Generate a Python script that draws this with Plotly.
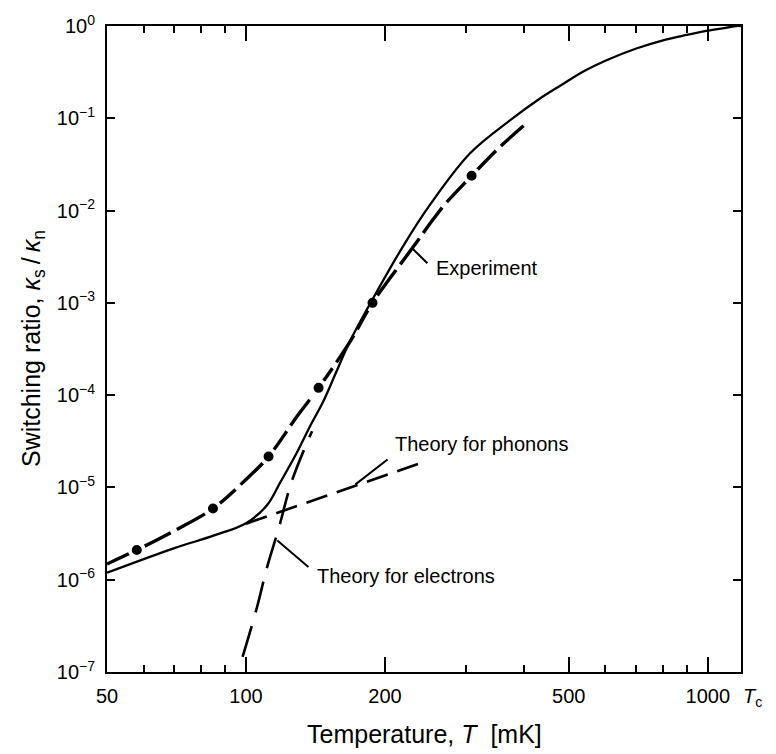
import numpy as np
import plotly.graph_objects as go

# ---- data ----
exp_T = [50, 58, 70, 84.8, 100, 111.9, 129, 143.6, 168, 187.9, 229, 255, 270, 308, 350, 399]
exp_ratio = [1.48e-6, 2.1e-6, 3.4e-6, 5.9e-6, 1.22e-5, 2.16e-5, 5.9e-5, 1.2e-4, 3.8e-4,
             1.0e-3, 3.9e-3, 8.2e-3, 1.18e-2, 2.38e-2, 4.6e-2, 8.3e-2]
dot_T = [58, 84.8, 111.9, 143.6, 187.9, 308]
dot_ratio = [2.1e-6, 5.9e-6, 2.16e-5, 1.2e-4, 1.0e-3, 2.38e-2]

total_T = [50, 70, 85, 100, 111, 118.7, 128.9, 137.6, 146.4, 157, 168.2, 192.3, 219.6,
           251, 306, 374, 430, 481, 540, 600, 700, 800, 900, 1000, 1100, 1150, 1180]
total_ratio = [1.19e-6, 2.2e-6, 3.0e-6, 4.1e-6, 6.4e-6, 1.14e-5, 2.39e-5, 4.6e-5, 8.2e-5,
               1.8e-4, 3.9e-4, 1.34e-3, 4.23e-3, 1.18e-2, 4.2e-2, 9.6e-2, 0.16, 0.228,
               0.325, 0.42, 0.57, 0.7, 0.8, 0.89, 0.96, 1.0, 1.0]

phonon_T = [100, 240]
phonon_ratio = [4.05e-6, 1.85e-5]

electron_T = [98.3, 105.6, 111, 117.7, 125.8, 139]
electron_ratio = [1.46e-7, 5.0e-7, 1.35e-6, 3.6e-6, 1.19e-5, 4.07e-5]

# leader lines for labels
lead_exp_T, lead_exp_r = [229, 247], [3.9e-3, 2.69e-3]
lead_ph_T, lead_ph_r = [172.6, 202.5], [1.08e-5, 2.01e-5]
lead_el_T, lead_el_r = [116.9, 136.5], [2.66e-6, 1.37e-6]

labels = ["Experiment", "Theory for phonons", "Theory for electrons"]
label_T = [254.8, 207.6, 141.3]
label_r = [2.4e-3, 2.94e-5, 1.1e-6]

x_ticks = [50, 100, 200, 500, 1000]
x_minor = [60, 70, 80, 90, 300, 400, 600, 700, 800, 900]
T_c = 1180
y_ticks = [1e-7, 1e-6, 1e-5, 1e-4, 1e-3, 1e-2, 1e-1, 1]
y_ticktext = ["10<sup>\u22127</sup>", "10<sup>\u22126</sup>", "10<sup>\u22125</sup>",
              "10<sup>\u22124</sup>", "10<sup>\u22123</sup>", "10<sup>\u22122</sup>",
              "10<sup>\u22121</sup>", "10<sup>0</sup>"]

FONT = "Liberation Sans, Arial, Helvetica, sans-serif"

fig = go.Figure()

# Experiment (thick long dashes with dots)
fig.add_trace(go.Scatter(x=exp_T, y=exp_ratio, mode="lines", line_shape="spline",
                         line=dict(color="black", width=3.4, dash="32px,7px"),
                         hoverinfo="skip", showlegend=False))
fig.add_trace(go.Scatter(x=dot_T, y=dot_ratio, mode="markers",
                         marker=dict(color="black", size=14, line=dict(color="white", width=4)),
                         showlegend=False))
# total theory (solid)
fig.add_trace(go.Scatter(x=total_T, y=total_ratio, mode="lines", line_shape="spline",
                         line=dict(color="black", width=2.3, smoothing=1.0), showlegend=False))
# phonon theory
fig.add_trace(go.Scatter(x=phonon_T, y=phonon_ratio, mode="lines",
                         line=dict(color="black", width=2.6, dash="22px,10px"), showlegend=False))
# electron theory
fig.add_trace(go.Scatter(x=electron_T, y=electron_ratio, mode="lines", line_shape="spline",
                         line=dict(color="black", width=2.6, dash="32px,14px"), showlegend=False))
# leader lines
for lx, ly in [(lead_exp_T, lead_exp_r), (lead_ph_T, lead_ph_r), (lead_el_T, lead_el_r)]:
    fig.add_trace(go.Scatter(x=lx, y=ly, mode="lines", line=dict(color="black", width=2),
                             hoverinfo="skip", showlegend=False))

annotations = []
for txt, tx, ty in zip(labels, label_T, label_r):
    annotations.append(dict(x=np.log10(tx), y=np.log10(ty), xref="x", yref="y", text=txt,
                            showarrow=False, xanchor="left", yanchor="middle",
                            font=dict(size=20, color="black", family=FONT)))
annotations.append(dict(x=np.log10(T_c), y=0, xref="x", yref="paper",
                        text="<i>T</i><sub>c</sub>", showarrow=False, xanchor="left",
                        yanchor="middle", yshift=-25,
                        font=dict(size=20, color="black", family=FONT)))
annotations.append(dict(x=0.5, y=-0.0963, xref="paper", yref="paper",
                        text="Temperature, <i>T</i>\u00a0 [mK]", showarrow=False,
                        xanchor="center", yanchor="middle",
                        font=dict(size=25, color="black", family=FONT)))
annotations.append(dict(x=-0.1167, y=0.5, xref="paper", yref="paper", textangle=-90,
                        text="Switching ratio, <i>\u03ba</i><sub>s</sub>\u2009/\u2009<i>\u03ba</i><sub>n</sub>",
                        showarrow=False, xanchor="center", yanchor="middle",
                        font=dict(size=25, color="black", family=FONT)))

fig.update_layout(
    width=776, height=754,
    margin=dict(l=107, r=35, t=18, b=82),
    paper_bgcolor="white", plot_bgcolor="white",
    font=dict(family=FONT, size=20, color="black"),
    annotations=annotations,
    xaxis=dict(type="log", range=[np.log10(50), np.log10(T_c)],
               tickvals=x_ticks, ticktext=[str(v) for v in x_ticks],
               ticks="inside", ticklen=15, tickwidth=2, tickcolor="black",
               showline=True, linecolor="black", linewidth=2, mirror="ticks",
               showgrid=False, zeroline=False, ticklabelstandoff=5,
               minor=dict(tickvals=x_minor, ticks="inside", ticklen=7, tickwidth=2,
                          tickcolor="black", showgrid=False)),
    yaxis=dict(type="log", range=[-7, 0],
               tickvals=y_ticks, ticktext=y_ticktext,
               ticks="inside", ticklen=8, tickwidth=2, tickcolor="black",
               showline=True, linecolor="black", linewidth=2, mirror="ticks",
               showgrid=False, zeroline=False, ticklabelstandoff=6),
)

fig.write_html("out.html")
